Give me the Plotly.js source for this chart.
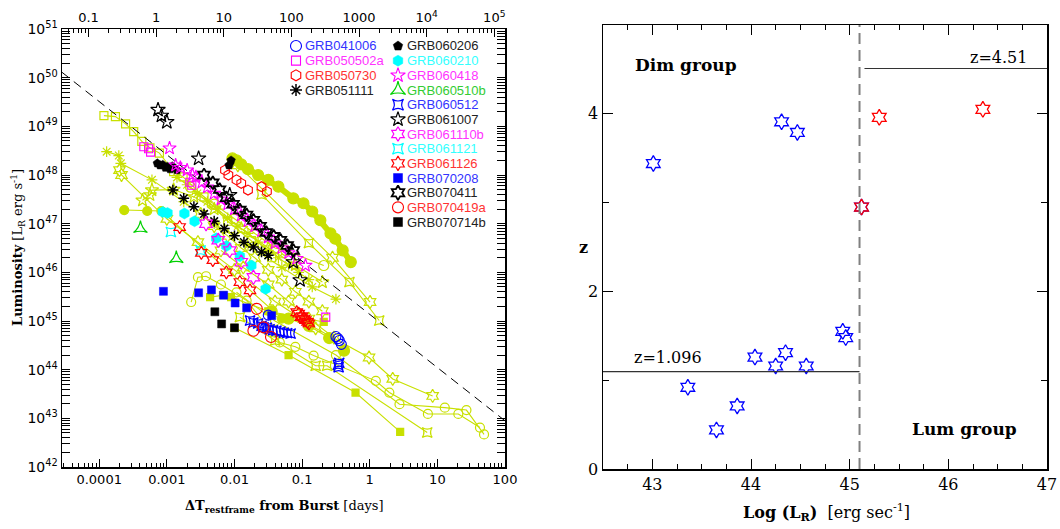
<!DOCTYPE html>
<html><head><meta charset="utf-8">
<script src="https://cdn.plot.ly/plotly-3.0.1.min.js"></script>
<style>html,body{margin:0;padding:0;background:#fff}#chart{width:1060px;height:529px}</style>
</head><body><div id="chart"></div>
<script>
// ================= DATA (log10 of rest-frame days, log10 of erg/s) =================
// fitted upper-envelope line
const fitLogT = [-4.55, 2.0];
const fitLogL = [50.11, 42.95];

// comparison sample (yellow-green light curves)
const kSqT = [-3.93,-3.76,-3.61,-3.49,-3.37,-3.25,-3.11,-2.90,-2.76,-2.45,-2.10,-1.75,-1.45];
const kSqL = [49.22,49.20,49.05,48.89,48.69,48.56,48.45,48.07,47.96,47.55,47.05,46.65,46.30];
const kBrightT = [-2.03,-1.97,-1.90,-1.80,-1.65,-1.50,-1.35,-1.13,-0.98,-0.85,-0.73,-0.58,-0.51,-0.40,-0.28];
const kBrightL = [48.34,48.30,48.22,48.12,48.00,47.90,47.76,47.52,47.42,47.25,47.07,46.80,46.69,46.45,46.21];
const kThin1T = [-1.95,-0.55,0.005];
const kThin1L = [48.20,46.30,45.39];
const kThin2T = [-1.60,-0.90,-0.30,0.14];
const kThin2L = [47.60,46.60,45.80,45.01];
const kFlatT = [-3.63,-3.29,-3.08,-1.30];
const kFlatL = [47.28,47.26,47.26,45.05];
const kAstT = [-3.89,-3.71,-3.68,-3.22,-2.75,-2.30,-1.80,-1.30,-0.85,-0.50];
const kAstL = [48.48,48.40,48.24,47.90,47.45,47.00,46.55,46.10,45.70,45.45];
const kHexT = [-3.70,-3.67,-3.00,-2.54,-2.00,-1.40,-0.80,-0.01,0.34,0.93];
const kHexL = [48.10,48.00,47.10,46.62,46.05,45.40,44.85,44.25,43.81,43.46];
const kStarT = [-3.36,-3.25,-3.22,-2.90,-2.60,-2.30,-1.90,-1.50,-1.10,-0.70];
const kStarL = [47.48,47.59,47.69,47.70,47.55,47.30,46.90,46.50,46.15,45.80];
const kCircT = [-2.65,-2.30,-2.00,-1.70,-1.40,-1.24,-0.68];
const kCircL = [47.75,47.40,47.10,46.80,46.50,46.45,46.14];
const kBand1T = [-2.85,-2.70,-2.55,-2.40,-2.25,-2.10,-1.95,-1.80,-1.65,-1.50,-1.35,-1.20,-1.05,-0.90];
const kBand1L = [47.95,47.80,47.62,47.45,47.30,47.12,46.95,46.80,46.62,46.45,46.30,46.15,46.00,45.85];
const kBand2T = [-2.50,-2.30,-2.10,-1.90,-1.70,-1.50,-1.30,-1.10,-0.90,-0.70];
const kBand2L = [47.20,46.95,46.75,46.50,46.30,46.05,45.85,45.60,45.40,45.20];
const kMidT = [-2.20,-1.87,-1.50,-1.20,-0.90,-0.53];
const kMidL = [46.45,46.10,45.75,45.40,45.05,44.66];
const kLowCircT = [-2.64,-2.54,-2.42,-2.20,-1.82,-1.33,-1.10,-0.83,0.09,0.29,0.86,1.31,1.63];
const kLowCircL = [45.39,45.90,45.92,45.75,45.42,44.56,44.47,44.29,43.77,43.53,43.09,43.09,42.81];
const kLowCirc2T = [-1.97,-1.40,-0.50,0.44,1.11,1.43,1.69];
const kLowCirc2L = [45.59,45.00,44.30,43.29,43.22,43.17,42.67];
const kLowSqT = [-2.36,-2.17,-2.05,-1.50,-0.68];
const kLowSqL = [45.49,45.53,45.49,45.20,44.98];
const kLowSq2T = [-2.00,-1.20,-0.21,0.45];
const kLowSq2L = [44.86,44.30,43.53,42.72];
const kLow4T = [-1.92,-1.40,-0.80,-0.63,0.85];
const kLow4L = [45.08,44.60,44.08,44.08,42.71];
const kBigT = [-1.45,-1.20,-0.90,-0.60,-0.38];
const kBigL = [45.20,45.05,44.90,44.65,44.39];

// GRBs of this sample
const g041006T = [-1.50,-0.50,-0.47,-0.45,-0.42];    const g041006L = [45.12,44.68,44.64,44.60,44.52];
const g050502aT = [-3.34,-3.27,-3.24,-2.66,-2.63,-0.65]; const g050502aL = [48.58,48.54,48.47,47.85,47.79,45.08];
const g050730T = [-2.14,-2.09,-1.97,-1.90,-1.80,-1.60,-1.52]; const g050730L = [48.10,48.00,47.90,47.83,47.69,47.76,47.66];
const g051111T = [-2.91,-2.75,-2.60,-2.45,-2.30,-2.15,-2.00,-1.86,-1.72,-1.60,-1.50]; const g051111L = [47.69,47.52,47.35,47.20,47.05,46.90,46.75,46.62,46.52,46.42,46.35];
const g060206T = [-3.14,-3.10,-3.06,-3.02,-2.99,-2.95,-2.92,-2.85,-2.08,-2.05]; const g060206L = [48.24,48.20,48.21,48.15,48.17,48.12,48.18,48.10,48.20,48.30];
const g060210T = [-3.06,-2.99,-2.74,-2.59,-2.27,-2.12,-1.92,-1.75,-1.54]; const g060210L = [47.24,47.22,47.21,47.05,46.70,46.54,46.33,46.14,45.66];
const g060418T = [-2.96,-2.87,-2.80,-2.70,-2.62,-2.57,-2.48,-2.40,-2.30,-2.20,-2.10,-2.00,-1.90,-1.80,-1.70,-1.60,-1.50,-1.40,-1.30,-1.20,-1.08,-0.95];
const g060418L = [48.55,48.20,48.15,48.10,48.00,47.96,47.85,47.75,47.62,47.50,47.40,47.30,47.17,47.05,46.95,46.85,46.72,46.60,46.50,46.40,46.28,46.14];
const g060510bT = [-3.39,-2.86];                      const g060510bL = [46.90,46.28];
const g060512T = [-1.77,-1.72,-1.65,-1.60,-1.57,-1.52,-1.48,-1.43,-1.38,-1.32,-1.27,-1.22,-1.17,-0.47,-0.46,-0.45]; 
const g060512L = [45.01,44.97,44.95,44.90,44.87,44.86,44.83,44.81,44.80,44.78,44.76,44.75,44.74,44.10,44.05,44.14];
const g061007T = [-3.13,-3.08,-3.00,-2.53,-2.07,-1.13,-1.03]; const g061007L = [49.34,49.22,49.09,48.34,47.59,46.21,45.84];
const g061110bT = [-2.42,-2.24,-2.07,-1.90,-1.72];   const g061110bL = [47.00,46.66,46.45,46.21,45.90];
const g061121T = [-2.94,-2.50];                       const g061121L = [46.83,46.45];
const g061126T = [-2.81,-2.49,-2.32,-2.12,-1.92,-1.77,-1.08,-1.05,-1.02,-1.00,-0.97,-0.95,-0.92,-0.90];
const g061126L = [46.93,46.40,46.25,46.00,45.80,45.63,45.18,45.15,45.08,45.10,45.05,45.02,44.98,44.95];
const g070208T = [-3.05,-2.53,-2.34,-2.16,-1.99,-1.82,-1.45]; const g070208L = [45.61,45.58,45.64,45.53,45.37,45.27,45.11];
const g070411T = [-2.45,-2.32,-2.22,-2.12,-2.02,-1.92,-1.82,-1.72,-1.62,-1.53,-1.42,-1.32,-1.22,-1.13];
const g070411L = [48.00,47.84,47.70,47.53,47.40,47.28,47.18,47.07,46.95,46.82,46.74,46.66,46.55,46.45];
const g070419aT = [-1.72,-1.67,-1.57,-1.46];          const g070419aL = [44.80,45.25,44.87,44.67];
const g070714bT = [-2.29,-2.19,-2.00];                const g070714bL = [45.19,44.94,44.86];

// legend
const legNames = ['GRB041006','GRB050502a','GRB050730','GRB051111',
  'GRB060206','GRB060210','GRB060418','GRB060510b','GRB060512','GRB061007','GRB061110b',
  'GRB061121','GRB061126','GRB070208','GRB070411','GRB070419a','GRB070714b'];

// right panel: log luminosity vs redshift
const dimLogLR = [43.01,44.31,44.47,43.36,43.65,43.86,44.04,44.25,44.35,44.56,44.93,44.96,45.12];
const dimZ     = [3.44,3.91,3.79,0.92,0.44,0.71,1.26,1.16,1.31,1.16,1.55,1.48,2.95];
const lumLogLR = [45.12,45.30,46.35];
const lumZ     = [2.95,3.96,4.05];
const zDimMedian = 1.096;
const zLumMedian = 4.51;
const logLRcut = 45.1;

// ================= STYLE =================
const YG = '#c8e000';
const BLUE = '#0000ff', MAG = '#ff00ff', RED = '#ff0000', BLK = '#000000', CYAN = '#00ffff', GRN = '#00d000';
const pw = v => Math.pow(10, v);

function yg(t, L, sym, size, lw) {
  return {type:'scatter', mode:'lines+markers', x:t.map(pw), y:L.map(pw), xaxis:'x', yaxis:'y',
    line:{color:YG, width:lw||1.1}, marker:{symbol:sym, size:size||8, color:YG, line:{color:YG, width:1.2}},
    hoverinfo:'skip', showlegend:false};
}
function grb(t, L, sym, color, size, lw) {
  return {type:'scatter', mode:'markers', x:t.map(pw), y:L.map(pw), xaxis:'x', yaxis:'y',
    marker:{symbol:sym, size:size||9, color:color, line:{color:color, width:lw||1.1}}, hoverinfo:'skip', showlegend:false};
}

// [T, L, symbol, marker colour, legend text colour, size, line width]
const grbSpec = [
  [g041006T, g041006L, 'circle-open', BLUE, '#3333ff', 10, 1.1],
  [g050502aT, g050502aL, 'square-open', MAG, '#ff33ff', 8, 1.1],
  [g050730T, g050730L, 'hexagon-open', RED, '#ff3333', 10, 1.1],
  [g051111T, g051111L, 'asterisk-open', BLK, '#222222', 9, 1.5],
  [g060206T, g060206L, 'pentagon', BLK, '#222222', 9, 0.5],
  [g060210T, g060210L, 'hexagon', CYAN, '#33ffff', 11, 0.5],
  [g060418T, g060418L, 'star-open', MAG, '#ff33ff', 10, 1.1],
  [g060510bT, g060510bL, 'star-triangle-up-open', GRN, '#33cc33', 10, 1.2],
  [g060512T, g060512L, 'star-square-open', BLUE, '#3333ff', 9, 1.2],
  [g061007T, g061007L, 'star-open', BLK, '#222222', 11, 1.2],
  [g061110bT, g061110bL, 'hexagram-open', MAG, '#ff33ff', 11, 1.2],
  [g061121T, g061121L, 'star-square-open', CYAN, '#33ffff', 9, 1.2],
  [g061126T, g061126L, 'hexagram-open', RED, '#ff3333', 10, 1.2],
  [g070208T, g070208L, 'square', BLUE, '#3333ff', 8, 0.5],
  [g070411T, g070411L, 'hexagram-open', BLK, '#222222', 10, 1.8],
  [g070419aT, g070419aL, 'circle-open', RED, '#ff3333', 11, 1.1],
  [g070714bT, g070714bL, 'square', BLK, '#222222', 8, 0.5]
];

const traces = [];
// comparison light curves
traces.push(yg(kLowCircT, kLowCircL, 'circle-open', 9));
traces.push(yg(kLowCirc2T, kLowCirc2L, 'circle-open', 9));
traces.push(yg(kLowSqT, kLowSqL, 'square', 7));
traces.push(yg(kLowSq2T, kLowSq2L, 'square', 7));
traces.push(yg(kLow4T, kLow4L, 'star-square-open', 9));
traces.push(yg(kBigT, kBigL, 'circle', 11));
traces.push(yg(kMidT, kMidL, 'hexagram-open', 10));
traces.push(yg(kBand2T, kBand2L, 'hexagram-open', 10));
traces.push(yg(kBand1T, kBand1L, 'asterisk-open', 9));
traces.push(yg(kHexT, kHexL, 'hexagram-open', 10));
traces.push(yg(kStarT, kStarL, 'star-open', 10));
traces.push(yg(kCircT, kCircL, 'circle-open', 10));
traces.push(yg(kAstT, kAstL, 'asterisk-open', 9));
traces.push(yg(kFlatT, kFlatL, 'circle', 9));
traces.push(yg(kThin1T, kThin1L, 'hexagram-open', 10));
traces.push(yg(kThin2T, kThin2L, 'star-square-open', 9));
traces.push(yg(kSqT, kSqL, 'square-open', 8));
traces.push(yg(kBrightT, kBrightL, 'circle', 11, 6));
// fit line
traces.push({type:'scatter', mode:'lines', x:fitLogT.map(pw), y:fitLogL.map(pw), xaxis:'x', yaxis:'y',
  line:{color:'#000', width:1, dash:'9px,6px'}, hoverinfo:'skip', showlegend:false});
// GRBs
grbSpec.forEach(s => traces.push(grb(s[0], s[1], s[2], s[3], s[5], s[6])));
// dummy for top axis
traces.push({type:'scatter', mode:'markers', x:[1], y:[1e45], xaxis:'x2', yaxis:'y', marker:{opacity:0}, hoverinfo:'skip', showlegend:false});

// legend markers (helper axis in pixel units)
const legCol = [296, 398], legTop = 46, legStep = 14.67;
const legX = [], legY = [];
legNames.forEach((n, i) => {
  const c = i < 4 ? 0 : 1, r = i < 4 ? i : i - 4;
  legX.push(legCol[c]); legY.push(legTop + r * legStep);
});
grbSpec.forEach((s, i) => {
  traces.push({type:'scatter', mode:'markers', x:[legX[i]], y:[legY[i]], xaxis:'x4', yaxis:'y4',
    marker:{symbol:s[2], size:Math.min(s[5] + 1, 11), color:s[3], line:{color:s[3], width:s[6]}}, hoverinfo:'skip', showlegend:false});
});

// right panel
traces.push({type:'scatter', mode:'markers', x:dimLogLR, y:dimZ, xaxis:'x3', yaxis:'y3',
  marker:{symbol:'hexagram-open', size:12, color:BLUE, line:{color:BLUE, width:1.3}}, hoverinfo:'skip', showlegend:false});
traces.push({type:'scatter', mode:'markers', x:lumLogLR, y:lumZ, xaxis:'x3', yaxis:'y3',
  marker:{symbol:'hexagram-open', size:12, color:RED, line:{color:RED, width:1.3}}, hoverinfo:'skip', showlegend:false});

// ticks
const minorX = [], minorY = [], minorTop = [];
for (let e = -5; e <= 2; e++) for (let m = 2; m <= 9; m++) minorX.push(m * Math.pow(10, e));
for (let e = 42; e <= 50; e++) for (let m = 2; m <= 9; m++) minorY.push(m * Math.pow(10, e));
for (let e = -2; e <= 5; e++) for (let m = 2; m <= 9; m++) minorTop.push(m * Math.pow(10, e));
const xTickVals = [1e-4,1e-3,1e-2,1e-1,1,10,100];
const xTickText = ['0.0001','0.001','0.01','0.1','1','10','100'];
const topTickVals = [0.1,1,10,100,1000,1e4,1e5];
const topTickText = ['0.1','1','10','100','1000','10<sup>4</sup>','10<sup>5</sup>'];
const yTickVals = [], yTickText = [];
for (let e = 42; e <= 51; e++) { yTickVals.push(Math.pow(10, e)); yTickText.push('10<sup>' + e + '</sup>'); }

const W = 1060, H = 529;
const LD = [62/W, 505/W], LY = [1-467/H, 1-29/H];
const RD = [603/W, 1047/W], RY = [1-469/H, 1-25/H];
const sans = 'DejaVu Sans, Arial, sans-serif', serif = 'DejaVu Serif, Times New Roman, serif';
const axBase = {showgrid:false, zeroline:false, showline:true, linecolor:'#000', linewidth:1.5,
  ticks:'inside', tickcolor:'#000', tickwidth:1, fixedrange:true};

const layout = {
  width:W, height:H, margin:{l:0,r:0,t:0,b:0}, paper_bgcolor:'#fff', plot_bgcolor:'rgba(0,0,0,0)',
  showlegend:false,
  xaxis: Object.assign({}, axBase, {domain:LD, anchor:'y', type:'log', range:[-4.55, 2.0],
    tickmode:'array', tickvals:xTickVals, ticktext:xTickText, ticklen:8,
    tickfont:{family:sans, size:13, color:'#000'},
    minor:{tickmode:'array', tickvals:minorX, ticks:'inside', ticklen:4, tickcolor:'#000'}}),
  xaxis2: Object.assign({}, axBase, {overlaying:'x', side:'top', anchor:'y', type:'log', range:[-4.55+3.1584, 2.0+3.1584],
    tickmode:'array', tickvals:topTickVals, ticktext:topTickText, ticklen:8,
    tickfont:{family:sans, size:13, color:'#000'},
    minor:{tickmode:'array', tickvals:minorTop, ticks:'inside', ticklen:4, tickcolor:'#000'}}),
  yaxis: Object.assign({}, axBase, {domain:LY, anchor:'x', type:'log', range:[42, 51], mirror:'allticks',
    tickmode:'array', tickvals:yTickVals, ticktext:yTickText, ticklen:8,
    tickfont:{family:sans, size:14, color:'#000'},
    minor:{tickmode:'array', tickvals:minorY, ticks:'inside', ticklen:4, tickcolor:'#000'}}),
  xaxis3: Object.assign({}, axBase, {domain:RD, anchor:'y3', range:[42.5, 47], mirror:'allticks',
    tickmode:'array', tickvals:[43,44,45,46,47], ticklen:10,
    tickfont:{family:serif, size:16, color:'#000'},
    minor:{dtick:0.25, tick0:42.5, ticks:'inside', ticklen:5, tickcolor:'#000'}}),
  yaxis3: Object.assign({}, axBase, {domain:RY, anchor:'x3', range:[0, 5], mirror:'allticks',
    tickmode:'array', tickvals:[0,2,4], ticklen:10,
    tickfont:{family:serif, size:16, color:'#000'},
    minor:{tickmode:'array', tickvals:[1,3], ticks:'inside', ticklen:6, tickcolor:'#000'}}),
  xaxis4: {domain:[0,1], anchor:'y4', range:[0, W], visible:false, fixedrange:true},
  yaxis4: {domain:[0,1], anchor:'x4', range:[H, 0], visible:false, fixedrange:true},
  shapes: [
    {type:'line', xref:'x3', yref:'y3', x0:logLRcut, x1:logLRcut, y0:0, y1:5, line:{color:'#808080', width:2, dash:'11px,6px'}},
    {type:'line', xref:'x3', yref:'y3', x0:42.5, x1:logLRcut, y0:zDimMedian, y1:zDimMedian, line:{color:'#333', width:1.2}},
    {type:'line', xref:'x3', yref:'y3', x0:logLRcut+0.05, x1:47, y0:zLumMedian, y1:zLumMedian, line:{color:'#333', width:1.2}}
  ],
  annotations: []
};

const A = layout.annotations;
function pa(px, py, text, font, extra) {
  A.push(Object.assign({xref:'paper', yref:'paper', x:px/W, y:1-py/H, text:text, showarrow:false, font:font,
    xanchor:'center', yanchor:'middle'}, extra||{}));
}
// legend texts
legNames.forEach((n, i) => {
  pa(legX[i] + 7, legY[i], n, {family:'Liberation Sans, Arial, sans-serif', size:13, color:grbSpec[i][4]}, {xanchor:'left'});
});
// axis titles and labels
pa(284, 506, '<b>ΔT<sub>restframe</sub> from Burst</b> [days]', {family:serif, size:13, color:'#000'});
pa(18, 248, '<b>Luminosity</b> [L<sub>R</sub> erg s<sup>-1</sup>]', {family:serif, size:13, color:'#000'}, {textangle:-90});
pa(826, 512, '<b>Log (L<sub>R</sub>)</b>  [erg sec<sup>-1</sup>]', {family:serif, size:16, color:'#000'});
pa(583, 247, '<b>z</b>', {family:serif, size:16, color:'#000'});
pa(686, 65, '<b>Dim group</b>', {family:serif, size:17, color:'#000'});
pa(964, 429, '<b>Lum group</b>', {family:serif, size:17, color:'#000'});
pa(998, 57, 'z=4.51', {family:serif, size:16, color:'#000'});
pa(668, 357, 'z=1.096', {family:serif, size:16, color:'#000'});

Plotly.newPlot('chart', traces, layout, {staticPlot:true, displayModeBar:false});
</script>
</body></html>
